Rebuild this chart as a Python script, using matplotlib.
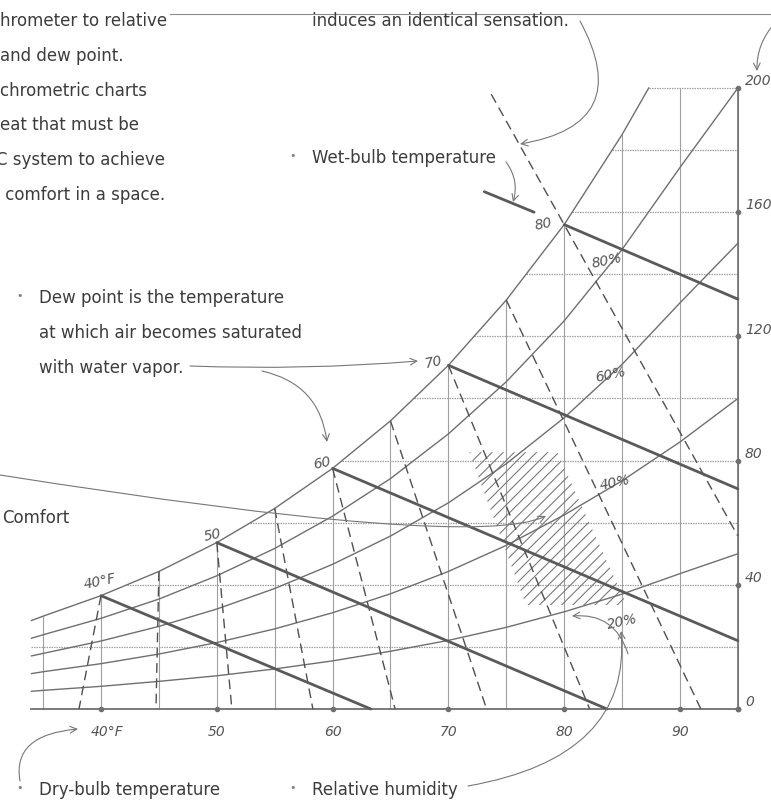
import numpy as np
import matplotlib
matplotlib.use("Agg")
import matplotlib.pyplot as plt
from matplotlib import font_manager as fm

# --- values ---
# dry-bulb temperature (F) vs humidity ratio (grains of moisture per lb of dry air)
temps = [34, 35, 40, 45, 50, 55, 60, 65, 70, 75, 80, 85, 87.3]
w_sat = [28.5, 29.9, 36.5, 44.3, 53.6, 64.6, 77.5, 92.8, 110.7, 131.7, 156.0, 185.0, 200.0]

rh_temps = [34, 35, 40, 45, 50, 55, 60, 65, 70, 75, 80, 85, 90, 95]
w_rh80 = [22.8, 23.9, 29.2, 35.4, 42.9, 51.7, 62.1, 74.2, 88.6, 105.4, 125.0, 148.0, 174.4, 200.0]
w_rh60 = [17.1, 17.9, 21.9, 26.6, 32.2, 38.8, 46.6, 55.7, 66.4, 79.0, 93.8, 111.0, 130.8, 150.0]
w_rh40 = [11.4, 12.0, 14.6, 17.7, 21.4, 25.8, 31.0, 37.1, 44.3, 52.7, 62.5, 73.5, 86.0, 100.0]
w_rh20 = [5.7, 6.0, 7.3, 8.9, 10.7, 12.9, 15.5, 18.6, 22.1, 26.3, 31.3, 37.0, 43.6, 50.0]
rh_labels = ["80%", "60%", "40%", "20%"]
rh_label_t = [83.7, 84.0, 84.4, 85.0]
rh_label_w = [144.5, 108.0, 73.0, 28.5]

# wet-bulb lines (start on saturation curve)
wb_labels = ["40°F", "50", "60", "70", "80"]
wb_label_t = [39.9, 49.6, 59.1, 68.7, 78.2]
wb_label_w = [41.2, 56.4, 79.5, 112.1, 156.5]
wb_start_t = [40, 50, 60, 70, 80]
wb_start_w = [36.5, 53.6, 77.5, 110.7, 156.0]
wb_end_t = [63.3, 83.7, 95, 95, 95]
wb_end_w = [0, 0, 22.0, 70.9, 132.0]
wb80_ext_t = [73.1, 77.4]
wb80_ext_w = [166.6, 160.0]

# dashed lines from the saturation curve down to the dry-bulb axis
vol_top_t = [40, 45, 50, 55, 60, 65, 70, 75]
vol_top_w = [36.5, 44.3, 53.6, 64.6, 77.5, 92.8, 110.7, 131.7]
vol_bot_t = [38.1, 44.75, 51.3, 58.3, 65.4, 73.3, 82.2, 91.8]
eff_t = [73.7, 80, 95]
eff_w = [198.0, 156.0, 55.7]

# comfort zone
comfort_t = [71.8, 79.4, 85.4, 76.7]
comfort_w = [82.7, 82.7, 33.5, 33.5]

grid_t = [35, 40, 45, 50, 55, 60, 65, 70, 75, 80, 85, 90, 95]
grid_w = [20, 40, 60, 80, 100, 120, 140, 160, 180, 200]
x_ticks = [40, 50, 60, 70, 80, 90]
x_tick_labels = ["40°F", "50", "60", "70", "80", "90"]
y_ticks = [0, 40, 80, 120, 160, 200]
y_tick_labels = ["0", "40", "80", "120", "160", "200"]

# --- fonts: a narrow face stands in for the hand lettering ---
try:
    fm.findfont(fm.FontProperties(family="Liberation Sans Narrow"), fallback_to_default=False)
    hand = ["Liberation Sans Narrow", "DejaVu Sans"]
    note_size, num_size = 17, 13
except ValueError:
    hand = ["DejaVu Sans"]
    note_size, num_size = 12, 10
plt.rcParams["font.family"] = hand
plt.rcParams["hatch.linewidth"] = 0.8

ink = "#3c3c3c"
pencil = "#6f6f6f"
grid_c = "#a0a0a0"
num_c = "#555555"

fig = plt.figure(figsize=(7.71, 8.03), dpi=100)
ax = fig.add_axes([0, 0, 1, 1])
ax.set_xlim(31.28, 97.86)
ax.set_ylim(-29.95, 228.66)
ax.axis("off")

# grid: verticals up to saturation, horizontals from saturation to the right edge
for t in grid_t:
    top = np.interp(t, temps, w_sat)
    ax.plot([t, t], [0, top], color=grid_c, lw=0.8, zorder=1)
for w in grid_w:
    left = np.interp(w, w_sat, temps)
    ax.plot([left, 95], [w, w], color=grid_c, lw=0.9, ls=(0, (1.2, 0.8)), zorder=1)

# axes lines and dots
ax.plot([34, 95], [0, 0], color=pencil, lw=1.3, zorder=3)
ax.plot([95, 95], [0, 200], color=pencil, lw=1.2, zorder=3)
ax.plot(x_ticks + [95], [0] * 7, "o", color=pencil, ms=3, zorder=4)
ax.plot([95] * len(y_ticks), y_ticks, "o", color=pencil, ms=3, zorder=4)

# comfort zone
ax.fill(comfort_t, comfort_w, facecolor="none", edgecolor="#7a7a7a", hatch="///", lw=0, zorder=2)

# saturation and relative humidity curves
ax.plot(temps, w_sat, color=pencil, lw=1.0, zorder=3)
for w_rh in [w_rh80, w_rh60, w_rh40, w_rh20]:
    ax.plot(rh_temps, w_rh, color=pencil, lw=1.0, zorder=3)

# dashed lines
for t0, w0, t1 in zip(vol_top_t, vol_top_w, vol_bot_t):
    ax.plot([t0, t1], [w0, 0], color="#505050", lw=1.0, ls=(0, (7, 4)), zorder=3)
ax.plot(eff_t, eff_w, color="#505050", lw=1.0, ls=(0, (7, 4)), zorder=3)

# wet-bulb lines
for t0, w0, t1, w1 in zip(wb_start_t, wb_start_w, wb_end_t, wb_end_w):
    ax.plot([t0, t1], [w0, w1], color="#5a5a5a", lw=2.0, solid_capstyle="round", zorder=4)
ax.plot(wb80_ext_t, wb80_ext_w, color="#5a5a5a", lw=2.0, solid_capstyle="round", zorder=4)

# number labels
for t, lab in zip(x_ticks, x_tick_labels):
    ax.text(t + (0.5 if lab.endswith("F") else 0), -7, lab, ha="center", va="center",
            fontsize=num_size, style="italic", color=num_c)
for w, lab in zip(y_ticks, y_tick_labels):
    ax.text(95.6, w + 2.5, lab, ha="left", va="center", fontsize=num_size, style="italic", color=num_c)
for t, w, lab in zip(wb_label_t, wb_label_w, wb_labels):
    ax.text(t, w, lab, ha="center", va="center", fontsize=num_size,
            style="italic", color=num_c, rotation=12)
for t, w, lab in zip(rh_label_t, rh_label_w, rh_labels):
    ax.text(t, w, lab, ha="center", va="center", fontsize=num_size, style="italic",
            color=num_c, rotation=12)

# --- annotations, placed in page pixels ---
ann = fig.add_axes([0, 0, 1, 1], facecolor="none")
ann.set_xlim(0, 771)
ann.set_ylim(803, 0)
ann.axis("off")

ann.plot([170, 771], [15, 15], color="#8c8c8c", lw=0.8)

left_block = ["hrometer to relative", "and dew point.", "chrometric charts",
              "eat that must be", "C system to achieve", " comfort in a space."]
left_base = [26, 61, 96, 130, 165, 200]
for s, y in zip(left_block, left_base):
    ann.text(-4 if s.startswith("C") else 0, y, s, fontsize=note_size, color=ink, va="baseline")

ann.text(312, 26, "induces an identical sensation.", fontsize=note_size, color=ink, va="baseline")

bullets = [(293, 163, "Wet-bulb temperature"),
           (20, 303, "Dew point is the temperature"),
           (20, 795, "Dry-bulb temperature"),
           (293, 795, "Relative humidity")]
for x, y, s in bullets:
    ann.text(x, y - 7, "•", fontsize=8, color="#808080", ha="center", va="center")
    ann.text(x + 19, y, s, fontsize=note_size, color=ink, va="baseline")
ann.text(39, 338, "at which air becomes saturated", fontsize=note_size, color=ink, va="baseline")
ann.text(39, 373, "with water vapor.", fontsize=note_size, color=ink, va="baseline")
ann.text(2, 523, "Comfort", fontsize=note_size, color=ink, va="baseline")


def arrow(start, end, style, head="->"):
    ann.annotate("", xy=end, xytext=start,
                 arrowprops=dict(arrowstyle=head, color="#777", lw=0.8,
                                 connectionstyle=style, shrinkA=0, shrinkB=0,
                                 mutation_scale=12))


arrow((580, 22), (520, 145), "arc3,rad=-0.7")
arrow((775, 24), (757, 72), "arc3,rad=0.2")
arrow((506, 163), (513, 203), "arc3,rad=-0.25")
arrow((190, 367), (418, 362), "arc3,rad=0.03")
arrow((262, 372), (327, 443), "arc3,rad=-0.35")
arrow((0, 476), (546, 517), "angle3,angleA=-9,angleB=25")
arrow((20, 782), (78, 730), "angle3,angleA=100,angleB=5")
arrow((468, 787), (621, 632), "angle3,angleA=10,angleB=95")
arrow((628, 655), (572, 617), "arc3,rad=0.4")

fig.savefig("out.png", dpi=100)
